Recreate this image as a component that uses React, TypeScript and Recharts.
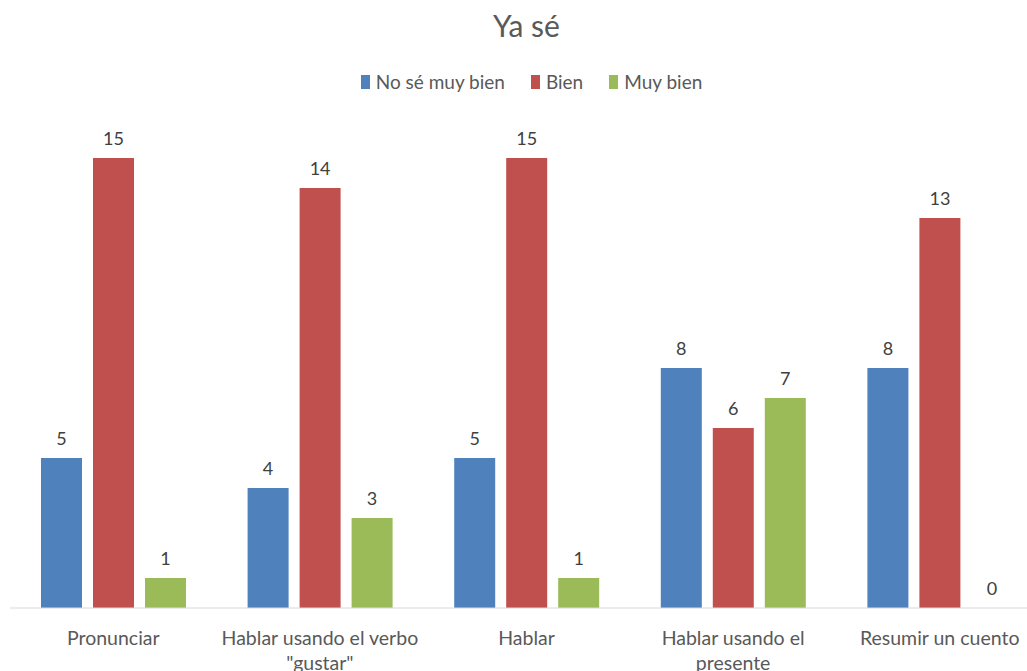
import { Bar, BarChart, LabelList, XAxis, YAxis } from 'recharts'

const categories = [
    'Pronunciar',
    'Hablar usando el verbo "gustar"',
    'Hablar',
    'Hablar usando el presente',
    'Resumir un cuento',
]
const noSeMuyBien = [5, 4, 5, 8, 8]
const bien = [15, 14, 15, 6, 13]
const muyBien = [1, 3, 1, 7, 0]

const SERIES = [
    { key: 'noSe', name: 'No sé muy bien', color: '#4f81bd' },
    { key: 'bien', name: 'Bien', color: '#c0504d' },
    { key: 'muyBien', name: 'Muy bien', color: '#9bbb59' },
]

const FONT = 'Lato, "Open Sans", sans-serif'
const TEXT_COLOR = '#595959'
const TICK_SIZE = 19.5

const data = categories.map((name, i) => ({
    name,
    noSe: noSeMuyBien[i],
    bien: bien[i],
    muyBien: muyBien[i],
}))

// greedy word wrap, measured with a canvas
function wrap(label: string, maxWidth: number) {
    const ctx = document.createElement('canvas').getContext('2d')
    if (!ctx) return [label]
    ctx.font = `${TICK_SIZE}px ${FONT}`
    const lines: string[] = []
    let line = ''
    for (const word of label.split(' ')) {
        const next = line ? line + ' ' + word : word
        if (line && ctx.measureText(next).width > maxWidth) {
            lines.push(line)
            line = word
        } else {
            line = next
        }
    }
    if (line) lines.push(line)
    return lines
}

function WrappedTick(props: any) {
    const { x, y, payload } = props
    const lines = wrap(String(payload.value), 200)
    return (
        <text
            x={x}
            y={y + 29}
            textAnchor="middle"
            fill={TEXT_COLOR}
            style={{ fontFamily: FONT, fontSize: TICK_SIZE }}
        >
            {lines.map((l, i) => (
                <tspan key={i} x={x} dy={i === 0 ? 0 : 25}>
                    {l}
                </tspan>
            ))}
        </text>
    )
}

// draws the value label, also for zero-height bars
function ValueLabel(props: any) {
    const { x, y, width, value } = props
    if (value == null) return null
    return (
        <text
            x={Number(x) + Number(width) / 2}
            y={Number(y) - 13}
            textAnchor="middle"
            fill="#404040"
            style={{ fontFamily: FONT, fontSize: 18 }}
        >
            {value}
        </text>
    )
}

function ChartLegend() {
    return (
        <div
            style={{
                display: 'flex',
                justifyContent: 'center',
                gap: 26,
                fontFamily: FONT,
                fontSize: 19,
                color: TEXT_COLOR,
            }}
        >
            {SERIES.map((s) => (
                <div key={s.key} style={{ display: 'flex', alignItems: 'center', gap: 6 }}>
                    <span style={{ width: 9, height: 14, background: s.color, display: 'inline-block' }} />
                    <span>{s.name}</span>
                </div>
            ))}
        </div>
    )
}

export default function App() {
    return (
        <div
            style={{
                position: 'absolute',
                top: 0,
                left: 0,
                width: 1027,
                height: 671,
                overflow: 'hidden',
                background: '#fff',
            }}
        >
            <div
                style={{
                    position: 'absolute',
                    top: 7,
                    left: 0,
                    width: 1053,
                    textAlign: 'center',
                    fontFamily: FONT,
                    fontSize: 30,
                    color: TEXT_COLOR,
                }}
            >
                Ya sé
            </div>
            <div style={{ position: 'absolute', top: 70, left: 0, width: 1063 }}>
                <ChartLegend />
            </div>
            <BarChart
                width={1053}
                height={671}
                data={data}
                margin={{ top: 128, right: 10, bottom: 0, left: 10 }}
                barSize={41}
                barGap={11}
                style={{ position: 'absolute', top: 0, left: 0 }}
            >
                <XAxis
                    dataKey="name"
                    height={63}
                    interval={0}
                    tickLine={false}
                    axisLine={{ stroke: '#d9d9d9' }}
                    tick={<WrappedTick />}
                />
                <YAxis hide domain={[0, 16]} />
                {SERIES.map((s) => (
                    <Bar
                        key={s.key}
                        dataKey={s.key}
                        name={s.name}
                        fill={s.color}
                        minPointSize={(v: number) => (v === 0 ? 0.01 : 0)}
                        isAnimationActive={false}
                    >
                        <LabelList dataKey={s.key} content={<ValueLabel />} />
                    </Bar>
                ))}
            </BarChart>
        </div>
    )
}
